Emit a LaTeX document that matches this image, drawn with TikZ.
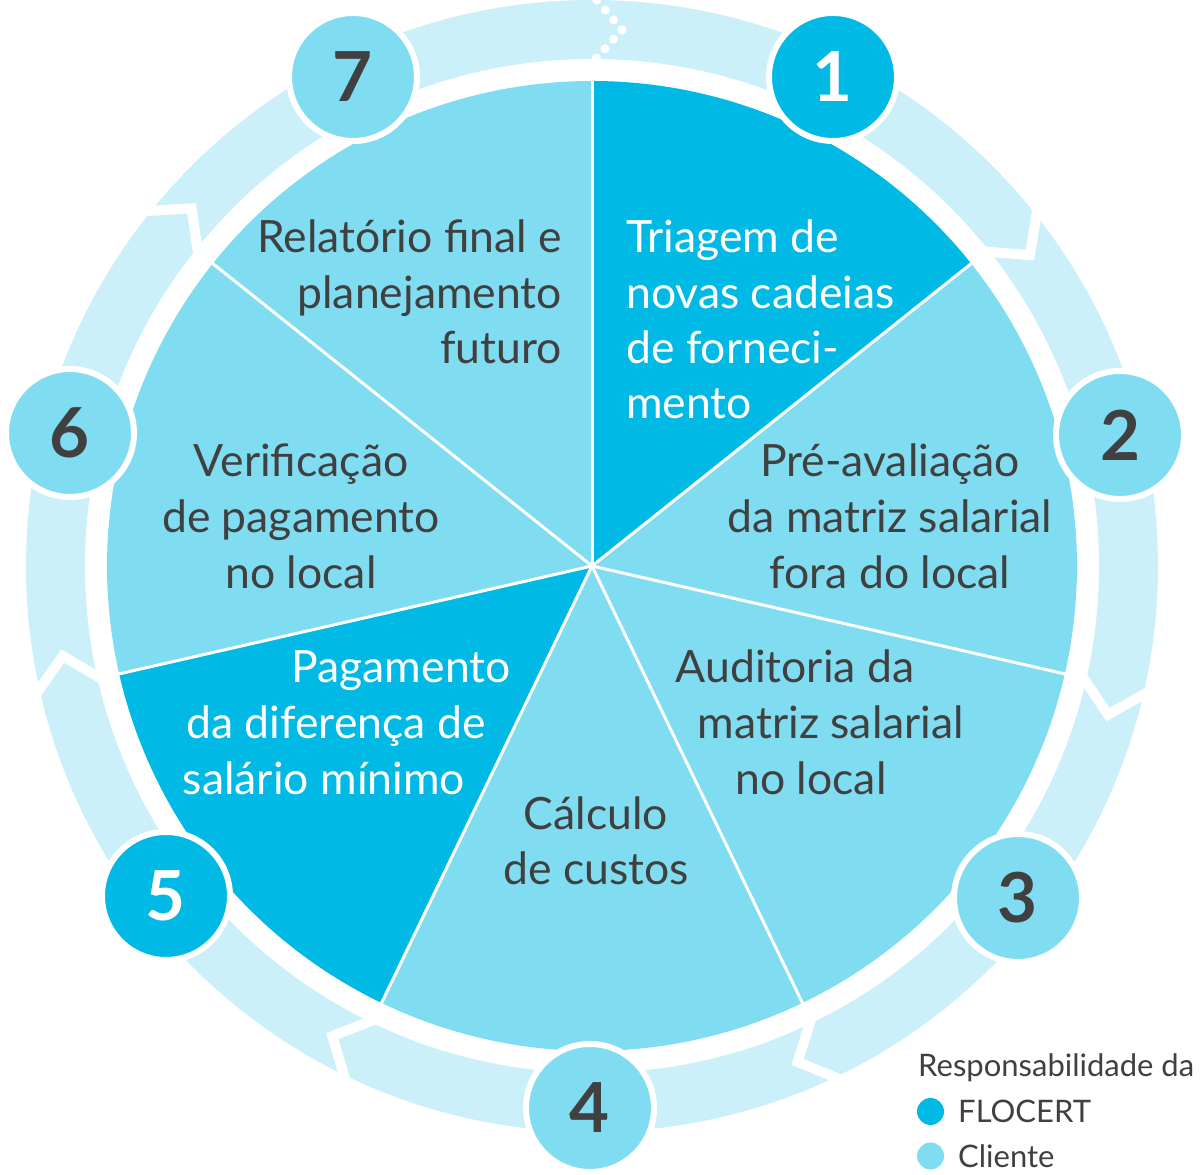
\documentclass[tikz,border=0pt]{standalone}
\usepackage{fontspec}
\setmainfont{Lato}
\usetikzlibrary{calc}
\definecolor{darkc}{RGB}{0,185,228}
\definecolor{lightc}{RGB}{128,221,241}
\definecolor{ringc}{RGB}{204,240,249}
\definecolor{textc}{RGB}{64,64,64}
\begin{document}
\begin{tikzpicture}[x=1pt,y=1pt,
  sl/.style={font=\fontsize{44.5}{52}\selectfont, inner sep=0pt, text=textc},
  slw/.style={sl, text=white},
  numc/.style={circle, minimum size=128pt, inner sep=0pt, draw=white, line width=6pt,
    font=\fontsize{69}{69}\selectfont\bfseries, text=textc},
  chev/.style={white, line width=10pt, line join=miter, shorten <=-10pt, shorten >=-10pt},
  legt/.style={anchor=base west, font=\fontsize{31}{31}\selectfont, text=textc, inner sep=0pt},
  legd/.style={circle, minimum size=27pt, inner sep=0pt},
  sep/.style={white, line width=3pt}
]
\useasboundingbox (0,0) rectangle (1200,1175);
\coordinate (C) at (592,609);
% ring
\fill[ringc, even odd rule] (C) circle[radius=566] (C) circle[radius=507];
\begin{scope}[shift={(C)}]
  \foreach \a in {38.5714,-12.8571,-64.2857,-115.7143,-167.1429,141.4286}{
    \draw[chev] ({\a-0.3}:507) -- ({\a-3.2}:537) -- ({\a-0.3}:566);
  }
  \foreach \t in {0,0.333,0.667,1}{
    \fill[white] ($(89.5:566)!\t!(86.8:537)$) circle[radius=4.5];
    \fill[white] ($(89.5:508)!\t!(86.8:537)$) circle[radius=4.5];
  }
  % pie
  \foreach \s/\col in {0/darkc,1/lightc,2/lightc,3/lightc,4/darkc,5/lightc,6/lightc}{
    \pgfmathsetmacro{\st}{90-\s*51.428571}
    \pgfmathsetmacro{\en}{\st-51.428571}
    \fill[\col] (0,0) -- (\st:485) arc[start angle=\st, end angle=\en, radius=485] -- cycle;
  }
  \foreach \s in {0,...,6}{
    \draw[sep] (0,0) -- ({90-\s*51.428571}:486);
  }
\end{scope}
% slice 1
\node[slw, anchor=base west] (t1a) at (626,922) {Triagem de};
\node[slw, anchor=base west] (t1b) at (626,866) {novas cadeias};
\node[slw, anchor=base west] (t1c) at (626,811) {de forneci-};
\node[slw, anchor=base west] (t1d) at (626,756) {mento};
% slice 2
\node[sl, anchor=base] (t2a) at (890,698) {Pré-avaliação};
\node[sl, anchor=base] (t2b) at (890,642) {da matriz salarial};
\node[sl, anchor=base] (t2c) at (890,586) {fora do local};
% slice 3
\node[sl, anchor=base] (t3a) at (795,492) {Auditoria da};
\node[sl, anchor=base] (t3b) at (831,436) {matriz salarial};
\node[sl, anchor=base] (t3c) at (811,380) {no local};
% slice 4
\node[sl, anchor=base] (t4a) at (596,345) {Cálculo};
\node[sl, anchor=base] (t4b) at (596,290) {de custos};
% slice 5
\node[slw, anchor=base] (t5a) at (401,492) {Pagamento};
\node[slw, anchor=base] (t5b) at (336,436) {da diferença de};
\node[slw, anchor=base] (t5c) at (324,380) {salário mínimo};
% slice 6
\node[sl, anchor=base] (t6a) at (301,698) {Verificação};
\node[sl, anchor=base] (t6b) at (301,642) {de pagamento};
\node[sl, anchor=base] (t6c) at (301,586) {no local};
% slice 7
\node[sl, anchor=base east] (t7a) at (562,922) {Relatório final e};
\node[sl, anchor=base east] (t7b) at (562,866) {planejamento};
\node[sl, anchor=base east] (t7c) at (562,811) {futuro};
% number circles
\node[numc, fill=darkc, text=white] (n1) at (833,1098) {1};
\node[numc, fill=lightc] (n2) at (1120,740) {2};
\node[numc, fill=lightc] (n3) at (1018,277) {3};
\node[numc, fill=lightc] (n4) at (590,67) {4};
\node[numc, fill=darkc, text=white] (n5) at (166,279) {5};
\node[numc, fill=lightc] (n6) at (70,742) {6};
\node[numc, fill=lightc] (n7) at (353,1098) {7};
% legend
\node[legt] (lg) at (918,98) {Responsabilidade da};
\node[legd, fill=darkc] (d1) at (930.5,63.5) {};
\node[legt] (l1) at (958,52.3) {FLOCERT};
\node[legd, fill=lightc] (d2) at (930.5,19) {};
\node[legt] (l2) at (958,7) {Cliente};
\end{tikzpicture}
\end{document}
